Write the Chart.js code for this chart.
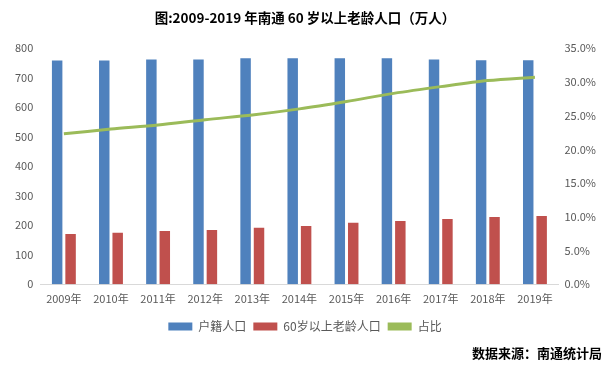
<!DOCTYPE html>
<html>
<head>
<meta charset="utf-8">
<script src="https://cdn.jsdelivr.net/npm/chart.js@4/dist/chart.umd.min.js"></script>
<style>
  html, body { margin: 0; padding: 0; background: #fff; }
  #wrap { width: 614px; height: 365px; }
</style>
</head>
<body>
<div id="wrap"><canvas id="chart"></canvas></div>
<script>
// --- data ---
const years = ["2009年", "2010年", "2011年", "2012年", "2013年", "2014年",
               "2015年", "2016年", "2017年", "2018年", "2019年"];
const huji = [758, 758, 762, 762, 766, 766, 766, 766, 762, 759, 759];      // 户籍人口
const elderly = [170, 174, 180, 184, 191, 197, 208, 214, 221, 228, 231];   // 60岁以上老龄人口
const ratio = [22.3, 23.0, 23.6, 24.4, 25.1, 26.0, 27.1, 28.3, 29.3, 30.2, 30.7]; // 占比 %
const leftTicks = [0, 100, 200, 300, 400, 500, 600, 700, 800];

const tickFont = { family: "'Microsoft YaHei', 'Noto Sans CJK SC', sans-serif", size: 11 };

new Chart(document.getElementById("chart"), {
  type: "bar",
  data: {
    labels: years,
    datasets: [
      {
        type: "line",
        label: "占比",
        data: ratio,
        yAxisID: "y1",
        borderColor: "#9BBB59",
        backgroundColor: "#9BBB59",
        borderWidth: 3,
        pointRadius: 0,
        tension: 0.3,
        order: 0,
      },
      {
        label: "户籍人口",
        data: huji,
        yAxisID: "y",
        backgroundColor: "#4F81BD",
        barPercentage: 0.78,
        categoryPercentage: 0.57,
        order: 1,
      },
      {
        label: "60岁以上老龄人口",
        data: elderly,
        yAxisID: "y",
        backgroundColor: "#C0504D",
        barPercentage: 0.78,
        categoryPercentage: 0.57,
        order: 1,
      },
    ],
  },
  options: {
    responsive: true,
    maintainAspectRatio: false,
    animation: false,
    layout: { padding: { left: 8, right: 12, top: 6, bottom: 4 } },
    plugins: {
      title: {
        display: true,
        text: "图:2009-2019 年南通 60 岁以上老龄人口（万人）",
        color: "#000",
        font: { family: "'Noto Sans CJK SC', serif", size: 13.5, weight: "bold" },
        padding: { top: 4, bottom: 22 },
      },
      subtitle: {
        display: true,
        position: "bottom",
        align: "end",
        text: "数据来源：南通统计局",
        color: "#000",
        font: { family: "'Noto Sans CJK SC', sans-serif", size: 13, weight: "bold" },
        padding: { top: 3, bottom: 0 },
      },
      legend: {
        position: "bottom",
        labels: {
          color: "#595959",
          font: { family: tickFont.family, size: 12 },
          boxWidth: 24,
          boxHeight: 8,
          padding: 7,
          sort: (a, b) => (a.datasetIndex === 0 ? 1 : b.datasetIndex === 0 ? -1 : a.datasetIndex - b.datasetIndex),
          generateLabels: (chart) => {
            const items = Chart.defaults.plugins.legend.labels.generateLabels(chart);
            items.forEach((it) => { it.lineWidth = 0; });
            return items;
          },
        },
      },
      tooltip: { enabled: false },
    },
    scales: {
      x: {
        grid: { display: false, drawTicks: false },
        border: { color: "#D9D9D9" },
        ticks: { color: "#595959", font: tickFont, padding: 8 },
      },
      y: {
        position: "left",
        min: 0,
        max: 800,
        afterBuildTicks: (axis) => { axis.ticks = leftTicks.map((v) => ({ value: v })); },
        grid: { display: false, drawTicks: false },
        border: { display: false },
        ticks: { color: "#595959", font: tickFont, padding: 7 },
      },
      y1: {
        position: "right",
        min: 0,
        max: 35,
        grid: { display: false, drawTicks: false },
        border: { display: false },
        ticks: {
          stepSize: 5,
          color: "#595959",
          font: tickFont,
          padding: 6,
          callback: (v) => v.toFixed(1) + "%",
        },
      },
    },
  },
});
</script>
</body>
</html>
